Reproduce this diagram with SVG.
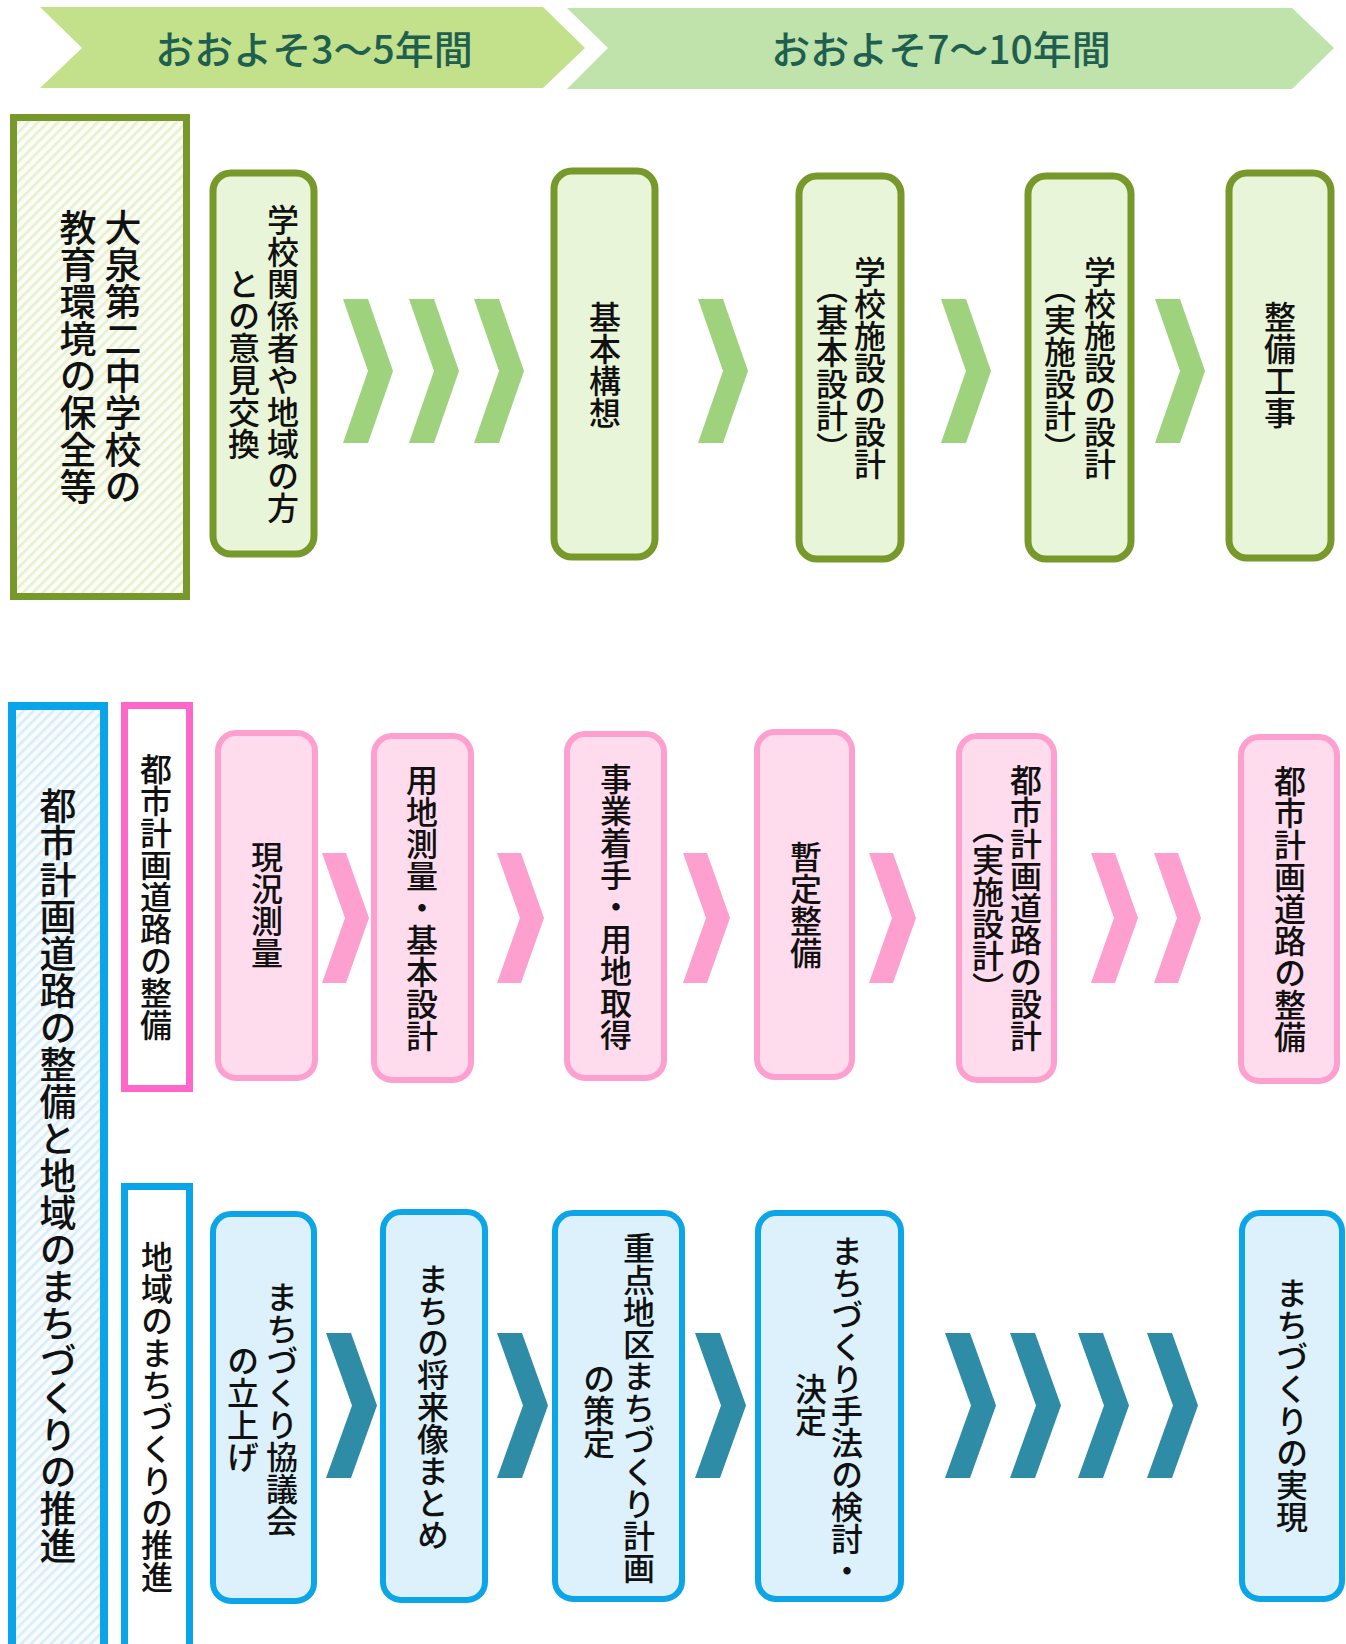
<svg xmlns="http://www.w3.org/2000/svg" width="1346" height="1644" viewBox="0 0 1346 1644">
<style>
text{font-family:"Noto Sans CJK JP","Noto Sans",sans-serif;fill:#111;}
.v{writing-mode:vertical-rl;text-anchor:middle;font-weight:500;font-size:32px;}
.vb{writing-mode:vertical-rl;text-anchor:middle;font-weight:500;font-size:37px;}
.hd{font-size:39px;font-weight:500;fill:#1f5f4f;text-anchor:middle;}
.g{fill:#e9f5d9;stroke:#77992b;stroke-width:7;}
.p{fill:#fedcee;stroke:#fda0cf;stroke-width:6;}
.b{fill:#dcf1fb;stroke:#0ca6e8;stroke-width:6;}
.cg{fill:#9fd27c;}
.cp{fill:#fda0cf;}
.cb{fill:#2e8ca6;}
</style>
<defs>
<pattern id="hg" width="7" height="7" patternUnits="userSpaceOnUse" patternTransform="rotate(45)">
<rect width="7" height="7" fill="#fbfdf6"/><rect width="2.6" height="7" fill="#e6f1cf"/>
</pattern>
<pattern id="hb" width="7" height="7" patternUnits="userSpaceOnUse" patternTransform="rotate(45)">
<rect width="7" height="7" fill="#f8fcfe"/><rect width="2.6" height="7" fill="#d9edf9"/>
</pattern>
<polygon id="chg" points="0,0 25,0 50,72 25,144 0,144 25,72"/>
<polygon id="chp" points="0,0 24,0 47,65 24,130 0,130 23,65"/>
<polygon id="chb" points="0,0 25,0 51,72.5 25,145 0,145 26,72.5"/>
</defs>

<g id="header">
<polygon points="40,7 543,7 585,48 543,88 40,88 82,48" fill="#c3e08a"/>
<text class="hd" x="314" y="64">おおよそ3〜5年間</text>
<polygon points="567,8 1292,8 1334,48 1292,89 567,89 608,48" fill="#c0e2ab"/>
<text class="hd" x="941" y="64">おおよそ7〜10年間</text>
</g>

<g id="connectors">
<use href="#chg" x="343" y="299" class="cg"/>
<use href="#chg" x="409" y="299" class="cg"/>
<use href="#chg" x="474" y="299" class="cg"/>
<use href="#chg" x="698" y="299" class="cg"/>
<use href="#chg" x="941" y="299" class="cg"/>
<use href="#chg" x="1155" y="299" class="cg"/>

<use href="#chp" x="322" y="853" class="cp"/>
<use href="#chp" x="497" y="853" class="cp"/>
<use href="#chp" x="683" y="853" class="cp"/>
<use href="#chp" x="869" y="853" class="cp"/>
<use href="#chp" x="1091" y="853" class="cp"/>
<use href="#chp" x="1154" y="853" class="cp"/>

<use href="#chb" x="326" y="1333" class="cb"/>
<use href="#chb" x="497" y="1333" class="cb"/>
<use href="#chb" x="695" y="1333" class="cb"/>
<use href="#chb" x="945" y="1333" class="cb"/>
<use href="#chb" x="1010" y="1333" class="cb"/>
<use href="#chb" x="1078" y="1333" class="cb"/>
<use href="#chb" x="1147" y="1333" class="cb"/>
</g>

<g id="school-box">
<rect x="13.5" y="117.5" width="173" height="479" fill="url(#hg)" stroke="#77992b" stroke-width="7"/>
<text class="vb" x="123" y="357">大泉第二中学校の</text>
<text class="vb" x="78" y="357">教育環境の保全等</text>
</g>

<g id="n-ikenkoukan">
<rect class="g" x="213" y="173" width="101" height="381" rx="18"/>
<text class="v" x="283" y="364">学校関係者や地域の方</text>
<text class="v" x="244" y="364">との意見交換</text>
</g>
<g id="n-kihonkousou">
<rect class="g" x="554" y="171" width="101" height="386" rx="18"/>
<text class="v" x="605" y="365">基本構想</text>
</g>
<g id="n-kihonsekkei">
<rect class="g" x="799" y="176" width="102" height="383" rx="18"/>
<text class="v" x="870" y="368">学校施設の設計</text>
<text class="v" x="832" y="368">（基本設計）</text>
</g>
<g id="n-jisshisekkei">
<rect class="g" x="1028" y="176" width="103" height="383" rx="18"/>
<text class="v" x="1100" y="368">学校施設の設計</text>
<text class="v" x="1060" y="368">（実施設計）</text>
</g>
<g id="n-seibikouji">
<rect class="g" x="1229" y="173" width="102" height="385" rx="18"/>
<text class="v" x="1280" y="365">整備工事</text>
</g>

<g id="city-box">
<rect x="12" y="706" width="92" height="970" fill="url(#hb)" stroke="#0aa5e9" stroke-width="8"/>
<text class="vb" x="58" y="1176">都市計画道路の整備と地域のまちづくりの推進</text>
</g>
<g id="road-label">
<rect x="124.5" y="705.5" width="65" height="383" fill="#fff" stroke="#fd67c9" stroke-width="7"/>
<text class="v" x="156" y="897">都市計画道路の整備</text>
</g>
<g id="town-label">
<rect x="124.5" y="1186.5" width="65" height="490" fill="#fff" stroke="#0aa5e9" stroke-width="7"/>
<text class="v" x="157" y="1417">地域のまちづくりの推進</text>
</g>

<g id="p-genkyou">
<rect class="p" x="218" y="733" width="97" height="345" rx="18"/>
<text class="v" x="267" y="905">現況測量</text>
</g>
<g id="p-youchisokuryou">
<rect class="p" x="374" y="736" width="97" height="344" rx="18"/>
<text class="v" x="422" y="908">用地測量・基本設計</text>
</g>
<g id="p-jigyou">
<rect class="p" x="567" y="734" width="97" height="344" rx="18"/>
<text class="v" x="616" y="907">事業着手・用地取得</text>
</g>
<g id="p-zantei">
<rect class="p" x="757" y="732" width="95" height="345" rx="18"/>
<text class="v" x="806" y="905">暫定整備</text>
</g>
<g id="p-sekkei">
<rect class="p" x="959" y="736" width="95" height="344" rx="18"/>
<text class="v" x="1026" y="908">都市計画道路の設計</text>
<text class="v" x="988" y="908">（実施設計）</text>
</g>
<g id="p-seibi">
<rect class="p" x="1241" y="737" width="96" height="344" rx="18"/>
<text class="v" x="1290" y="909">都市計画道路の整備</text>
</g>

<g id="b-kyougikai">
<rect class="b" x="213" y="1214" width="101" height="387" rx="18"/>
<text class="v" x="282" y="1409">まちづくり協議会</text>
<text class="v" x="243" y="1409">の立上げ</text>
</g>
<g id="b-shouraizou">
<rect class="b" x="383" y="1212" width="102" height="388" rx="18"/>
<text class="v" x="433" y="1407">まちの将来像まとめ</text>
</g>
<g id="b-keikaku">
<rect class="b" x="555" y="1213" width="127" height="386" rx="18"/>
<text class="v" x="639" y="1408">重点地区まちづくり計画</text>
<text class="v" x="599" y="1411">の策定</text>
</g>
<g id="b-shuhou">
<rect class="b" x="758" y="1213" width="143" height="386" rx="18"/>
<text class="v" x="847" y="1411">まちづくり手法の検討・</text>
<text class="v" x="811" y="1405">決定</text>
</g>
<g id="b-jitsugen">
<rect class="b" x="1242" y="1213" width="100" height="386" rx="18"/>
<text class="v" x="1292" y="1405">まちづくりの実現</text>
</g>
</svg>
